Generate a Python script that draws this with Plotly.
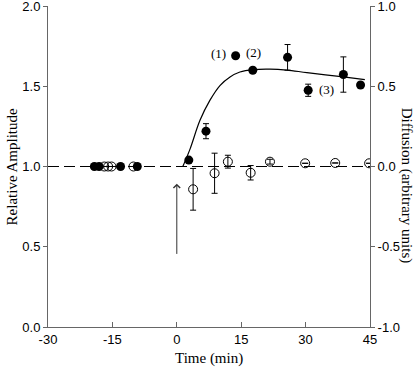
import plotly.graph_objects as go

# Relative amplitude (filled circles, left axis)
amp_t = [-19.2, -18.1, -13.1, -9.2, 2.8, 6.8, 13.7, 17.7, 25.8, 30.6, 38.8, 42.8]
amp_v = [1.0, 1.0, 1.0, 1.0, 1.04, 1.22, 1.69, 1.60, 1.68, 1.475, 1.573, 1.508]
amp_e = [0, 0, 0, 0, 0, 0.047, 0, 0, 0.08, 0.038, 0.11, 0]

# Diffusion (open circles, right axis)
dif_t = [-16.9, -16.0, -15.2, -10.1, 3.8, 8.8, 11.9, 17.2, 21.7, 29.9, 36.9, 44.8]
dif_v = [0.0, 0.0, 0.0, 0.0, -0.142, -0.042, 0.03, -0.039, 0.03, 0.02, 0.022, 0.02]
dif_e = [0, 0, 0, 0, 0.13, 0.125, 0.04, 0.045, 0.015, 0, 0, 0]

# Fitted curve
fit_t = [1.4, 3.1, 5.4, 7.7, 10.1, 12.4, 14.7, 17.8, 21.7, 25.6, 30.3, 38.8, 43.8]
fit_v = [1.0, 1.11, 1.288, 1.412, 1.506, 1.558, 1.589, 1.604, 1.607, 1.601, 1.585, 1.558, 1.541]

# Baseline
base_t = [-30, 45]
base_v = [1.0, 1.0]

# Arrow (stimulus at t = 0)
arrow_t = 0
arrow_from = 0.446
arrow_to = 0.893

labels = ["(1)", "(2)", "(3)"]
label_t = [9.8, 17.8, 34.8]
label_v = [1.705, 1.71, 1.48]

x_ticks = [-30, -15, 0, 15, 30, 45]
y_ticks = [0.0, 0.5, 1.0, 1.5, 2.0]
y2_ticks = [-1.0, -0.5, 0.0, 0.5, 1.0]

fig = go.Figure()
fig.add_trace(go.Scatter(x=base_t, y=base_v, mode="lines",
                         line=dict(color="black", width=1, dash="11px,5px"), showlegend=False))
fig.add_trace(go.Scatter(x=fit_t, y=fit_v, mode="lines", line_shape="spline",
                         line=dict(color="black", width=1.2), showlegend=False))
fig.add_trace(go.Scatter(x=dif_t, y=dif_v, mode="markers", yaxis="y2",
                         marker=dict(symbol="circle-open", size=9, color="black", line=dict(width=1)),
                         error_y=dict(type="data", array=dif_e, color="black", thickness=1, width=3),
                         showlegend=False))
fig.add_trace(go.Scatter(x=amp_t, y=amp_v, mode="markers",
                         marker=dict(symbol="circle", size=9, color="black"),
                         error_y=dict(type="data", array=amp_e, color="black", thickness=1, width=3),
                         showlegend=False))

for lab, t, v in zip(labels, label_t, label_v):
    fig.add_annotation(x=t, y=v, text=lab, showarrow=False, xref="x", yref="y",
                       font=dict(family="Liberation Serif", size=13, color="black"))

fig.add_annotation(x=arrow_t, y=arrow_to, ax=arrow_t, ay=arrow_from, xref="x", yref="y",
                   axref="x", ayref="y", text="", showarrow=True, arrowhead=4,
                   arrowsize=1.3, arrowwidth=1, arrowcolor="#333")

titlefont = dict(family="Liberation Serif", size=15, color="black")
fig.add_annotation(text="Relative Amplitude", xref="paper", yref="paper", x=-0.112, y=0.5,
                   textangle=-90, showarrow=False, font=titlefont, xanchor="center", yanchor="middle")
fig.add_annotation(text="Diffusion (arbitrary units)", xref="paper", yref="paper", x=1.112, y=0.44,
                   textangle=90, showarrow=False, font=titlefont, xanchor="center", yanchor="middle")
fig.add_annotation(text="Time (min)", xref="paper", yref="paper", x=0.5, y=-0.097,
                   showarrow=False, font=titlefont, xanchor="center", yanchor="middle")

axis_col = "#666"
tickfont = dict(family="Liberation Sans", size=13, color="black")

common = dict(showgrid=False, zeroline=False, showline=True, linecolor=axis_col, linewidth=1,
              tickcolor=axis_col, tickfont=tickfont, automargin=False,
              ticklabeloverflow="allow")

fig.update_layout(
    width=420, height=368,
    margin=dict(l=48, r=50, t=6, b=41),
    plot_bgcolor="white", paper_bgcolor="white",
    xaxis=dict(range=[-30, 45], tickvals=x_ticks, ticktext=[str(v) for v in x_ticks],
               ticks="inside", ticklen=5, **common),
    yaxis=dict(range=[0, 2], tickvals=y_ticks, ticktext=["%.1f" % v for v in y_ticks],
               ticks="outside", ticklen=4, **common),
    yaxis2=dict(range=[-1, 1], tickvals=y2_ticks, ticktext=["%.1f" % v for v in y2_ticks],
                overlaying="y", side="right", ticks="outside", ticklen=4, **common),
)

fig.write_html("out.html", config={"displayModeBar": False},
               post_script="document.body.style.margin='0';document.body.style.padding='0';")
